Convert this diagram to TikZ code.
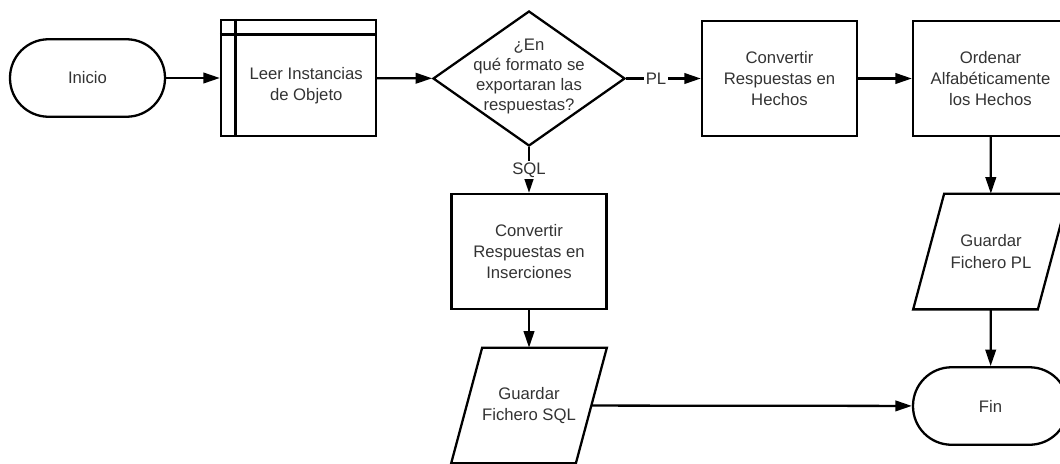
\documentclass[tikz,border=0pt]{standalone}
\usepackage{fontspec}
\setmainfont{Liberation Sans}
\usepackage{tikz}
\usetikzlibrary{shapes.geometric, arrows.meta, positioning}
\definecolor{InkGray}{HTML}{333333}
\tikzset{
  % Box styles
  boxtext/.style={font=\fontsize{9.5}{12}\selectfont, text=InkGray, align=center},
  terminal/.style={rectangle, rounded corners=0.77cm, draw, line width=1.3pt, minimum width=3.1cm, minimum height=1.55cm, boxtext},
  processbox/.style={rectangle, draw, line width=1.3pt, minimum width=3.1cm, minimum height=2.3cm, boxtext},
  subbox/.style={processbox, minimum height=2.32cm},
  decisionbox/.style={diamond, draw, line width=1.3pt, minimum width=3.84cm, minimum height=2.7cm, inner sep=0pt},
  iobox/.style={rectangle, minimum width=2.48cm, minimum height=2.3cm, inner sep=0pt, boxtext},
  ioline/.style={line width=1.3pt, line join=miter},
  % Arrow styles
  arrow/.style={-{Triangle[length=0.33cm, width=0.21cm]}, line width=1.3pt},
  branchlabel/.style={fill=white, inner sep=1pt, boxtext}
}
% slanted outline round an iobox node
\newcommand{\slantbox}[1]{%
  \draw[ioline] ([xshift=0.31cm]#1.north west) -- ([xshift=0.31cm]#1.north east)
    -- ([xshift=-0.31cm]#1.south east) -- ([xshift=-0.31cm]#1.south west) -- cycle;}

\begin{document}
\begin{tikzpicture}
  \useasboundingbox (0,0) rectangle (21.2,-9.26);

  % Top row
  \node[terminal] (inicio) at (1.75,-1.56) {Inicio};
  \node[subbox] (leer) at (5.97,-1.56) {};
  \draw[line width=1.3pt] ([xshift=0.31cm]leer.north west) -- ([xshift=0.31cm]leer.south west);
  \draw[line width=1.3pt] ([yshift=-0.31cm]leer.north west) -- ([yshift=-0.31cm]leer.north east);
  \node[boxtext] (leertxt) at ([xshift=0.155cm, yshift=-0.155cm]leer.center) {Leer Instancias\\de Objeto};

  \node[decisionbox] (formato) at (10.58,-1.57) {};
  \node[boxtext, font=\fontsize{9.5}{11.2}\selectfont] (pregunta) at ([yshift=0.04cm]formato) {¿En\\qué formato se\\exportaran las\\respuestas?};

  \node[processbox] (hechos) at (15.59,-1.57) {Convertir\\Respuestas en\\Hechos};
  \node[processbox] (ordenar) at (19.81,-1.57) {Ordenar\\Alfabéticamente\\los Hechos};

  % PL branch
  \node[iobox] (guardarpl) at (19.82,-5.03) {Guardar\\Fichero PL};
  \slantbox{guardarpl}
  \node[terminal] (fin) at (19.81,-8.12) {Fin};

  % SQL branch
  \node[processbox] (inserciones) at (10.58,-5.03) {Convertir\\Respuestas en\\Inserciones};
  \node[iobox] (guardarsql) at (10.58,-8.11) {Guardar\\Fichero SQL};
  \slantbox{guardarsql}

  % Connectors
  \draw[arrow] (inicio) -- (leer);
  \draw[arrow] (leer) -- (formato);
  \draw[arrow] (formato) -- node[branchlabel, pos=0.4] {PL} (hechos);
  \draw[arrow] (hechos) -- (ordenar);
  \draw[arrow] (ordenar) -- (guardarpl);
  \draw[arrow] (guardarpl) -- (fin);
  \draw[arrow] (formato) -- node[branchlabel] {SQL} (inserciones);
  \draw[arrow] (inserciones) -- (guardarsql);
  \draw[arrow] (guardarsql) -- (fin);
\end{tikzpicture}
\end{document}
